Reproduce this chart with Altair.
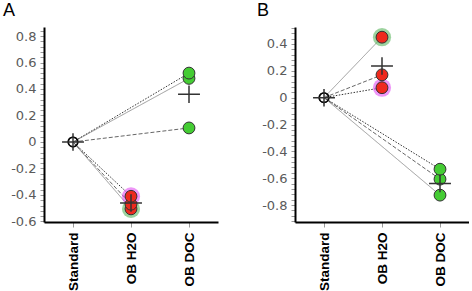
import json
import altair as alt
import pandas as pd

# ---- data ----
categories = ["Standard", "OB H2O", "OB DOC"]
subjects = ["s1", "s2", "s3"]            # s1 solid, s2 dashed, s3 dotted
halo_of = {"s1": "green", "s2": "none", "s3": "magenta"}

A_standard = [0.0, 0.0, 0.0]
A_h2o = [-0.505, -0.47, -0.41]
A_doc = [0.48, 0.106, 0.52]
A_means = [0.0, -0.46, 0.36]

B_standard = [0.0, 0.0, 0.0]
B_h2o = [0.45, 0.17, 0.074]
B_doc = [-0.726, -0.607, -0.533]
B_means = [0.0, 0.235, -0.64]

A_domain = [-0.604, 0.868]
B_domain = [-0.926, 0.526]

FONT = "Liberation Sans"
TICK_FONT = "DejaVu Sans"


def ticks_between(lo, hi):
    out = []
    k = int(lo / 0.04) - 1
    while k * 0.04 <= hi + 1e-9:
        v = round(k * 0.04, 2)
        if lo - 1e-9 <= v <= hi + 1e-9:
            out.append(v)
        k += 1
    return out


def make_panel(std, h2o, doc, means, domain, title, extent, title_dx):
    seg_rows = []
    pt_rows = []
    for i, s in enumerate(subjects):
        for tgt, vals in ((1, h2o), (2, doc)):
            seg_rows.append({"seg": f"{s}-{tgt}", "subject": s, "xi": 0, "v": std[i]})
            seg_rows.append({"seg": f"{s}-{tgt}", "subject": s, "xi": tgt, "v": vals[i]})
        pt_rows.append({"subject": s, "xi": 0, "v": std[i], "kind": "std", "halo": "none"})
        pt_rows.append({"subject": s, "xi": 1, "v": h2o[i], "kind": "h2o", "halo": halo_of[s]})
        pt_rows.append({"subject": s, "xi": 2, "v": doc[i], "kind": "doc", "halo": "none"})
    seg = pd.DataFrame(seg_rows)
    pts = pd.DataFrame(pt_rows)
    mean_df = pd.DataFrame({"xi": [0, 1, 2], "v": means})

    tick_vals = ticks_between(domain[0], domain[1])
    label_expr = "round(datum.value*100) % 20 == 0 ? '' + datum.value : ''"

    x = alt.X("xi:Q", scale=alt.Scale(domain=[-0.5, 2.5], nice=False, zero=False),
              axis=alt.Axis(values=[0, 1, 2], title=None, grid=False,
                            labelExpr=json.dumps(categories) + "[datum.value]",
                            labelAngle=-90, labelFont=FONT, labelFontSize=13.5,
                            labelFontWeight="bold", labelColor="black",
                            labelPadding=5, tickColor="#999", tickSize=5,
                            domainColor="black", domainWidth=2))
    y = alt.Y("v:Q", scale=alt.Scale(domain=domain, nice=False, zero=False),
              axis=alt.Axis(values=tick_vals, title=None, grid=False,
                            labelExpr=label_expr, labelFont=TICK_FONT, labelFontSize=13,
                            labelColor="#5a5a5a", labelPadding=4,
                            tickColor="#999", tickSize=4,
                            domainColor="black", domainWidth=2,
                            minExtent=extent, maxExtent=extent))

    lines = alt.Chart(seg).mark_line(strokeWidth=1).encode(
        x=x, y=y, detail="seg:N",
        strokeDash=alt.StrokeDash("subject:N", legend=None,
                                  scale=alt.Scale(domain=subjects,
                                                  range=[[1, 0], [4, 2], [1.5, 1.5]])),
        color=alt.Color("subject:N", legend=None,
                        scale=alt.Scale(domain=subjects, range=["#999", "#666", "#333"])),
    )
    halos = alt.Chart(pts).transform_filter("datum.halo != 'none'").mark_circle(
        size=330, opacity=0.55).encode(
        x=x, y=y,
        fill=alt.Fill("halo:N", legend=None,
                      scale=alt.Scale(domain=["green", "magenta"], range=["#4caf50", "#e040f0"])),
    )
    dots = alt.Chart(pts).transform_filter("datum.kind != 'std'").mark_point(
        filled=True, size=140, stroke="#333", strokeWidth=1, opacity=1, shape="circle").encode(
        x=x, y=y,
        fill=alt.Fill("kind:N", legend=None,
                      scale=alt.Scale(domain=["h2o", "doc"], range=["#ee2a1e", "#44cc33"])),
    )
    std_dot = alt.Chart(pts).transform_filter("datum.kind == 'std'").mark_point(
        filled=False, size=90, color="black", strokeWidth=1.5).encode(x=x, y=y)
    crosses = alt.Chart(mean_df).mark_point(
        shape="M-1,0L1,0M0,-0.8L0,0.8", filled=False, size=480,
        stroke="#333", strokeWidth=1.5, opacity=1).encode(x=x, y=y)

    return alt.layer(lines, halos, dots, std_dot, crosses).resolve_scale(
        fill="independent").properties(
        width=174, height=195,
        title=alt.TitleParams(title, anchor="start", font=FONT, fontSize=18,
                              fontWeight="normal", color="black", dx=title_dx, offset=7),
    )


panelA = make_panel(A_standard, A_h2o, A_doc, A_means, A_domain, "A", 44, 3)
panelB = make_panel(B_standard, B_h2o, B_doc, B_means, B_domain, "B", 50, 12)

chart = alt.hconcat(panelA, panelB, spacing=27).properties(
    padding={"left": 0, "top": 2, "right": 0, "bottom": 0},
    background="white",
).configure_view(stroke=None)

chart.save("out.html", embed_options={"renderer": "svg", "actions": False})
